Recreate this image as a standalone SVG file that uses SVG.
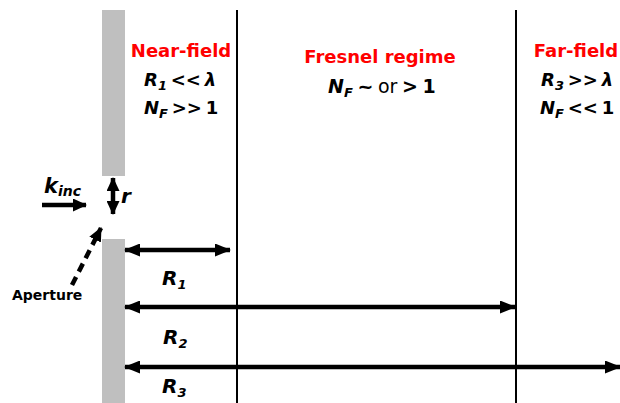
<svg xmlns="http://www.w3.org/2000/svg" width="620" height="403" viewBox="0 0 620 403">
<style>
text{font-family:"DejaVu Sans","Liberation Sans",sans-serif;font-weight:bold;fill:#000}
.h{fill:#FF0000;font-size:18px}
.m{font-size:20px;word-spacing:-2px}
.q{font-size:18px;word-spacing:-2.5px}
.i{font-style:italic}
.s{font-size:13px;font-style:italic}
.n{font-weight:normal}
.bar{fill:#BFBFBF}
.vl{stroke:#000;stroke-width:2;fill:none}
.ar{stroke:#000;stroke-width:4.5;fill:none}
</style>
<defs>
<marker id="ah" viewBox="0 0 16 13" refX="15" refY="6.5" markerWidth="16" markerHeight="13" markerUnits="userSpaceOnUse" orient="auto-start-reverse">
<path d="M0,0 L16,6.5 L0,13 Z" fill="#000"/>
</marker>
<marker id="ahs" viewBox="0 0 14 13" refX="13" refY="6.5" markerWidth="14" markerHeight="13" markerUnits="userSpaceOnUse" orient="auto-start-reverse">
<path d="M0,0 L14,6.5 L0,13 Z" fill="#000"/>
</marker>
</defs>
<rect width="620" height="403" fill="#fff"/>
<g id="aperture-screen">
<rect class="bar" x="102" y="10" width="23" height="166"/>
<rect class="bar" x="102" y="239" width="23" height="164"/>
</g>
<g id="boundaries">
<line class="vl" x1="237" y1="10" x2="237" y2="403"/>
<line class="vl" x1="516" y1="10" x2="516" y2="403"/>
</g>
<g id="near-field">
<text class="h" x="181" y="57" text-anchor="middle">Near-field</text>
<text class="q" x="144" y="86"><tspan class="i">R</tspan><tspan class="s" dy="4">1</tspan><tspan dy="-4"> &lt;&lt; </tspan><tspan class="i">λ</tspan></text>
<text class="q" x="144" y="114"><tspan class="i">N</tspan><tspan class="s" dy="4">F</tspan><tspan dy="-4"> &gt;&gt; 1</tspan></text>
</g>
<g id="fresnel">
<text class="h" x="380" y="63" text-anchor="middle">Fresnel regime</text>
<text class="m" x="328" y="93" style="font-size:19px"><tspan class="i">N</tspan><tspan class="s" dy="4">F</tspan><tspan dy="-4"> ~ </tspan><tspan class="n">or</tspan><tspan> &gt; 1</tspan></text>
</g>
<g id="far-field">
<text class="h" x="576" y="57" text-anchor="middle">Far-field</text>
<text class="q" x="541" y="86"><tspan class="i">R</tspan><tspan class="s" dy="4">3</tspan><tspan dy="-4"> &gt;&gt; </tspan><tspan class="i">λ</tspan></text>
<text class="q" x="540" y="114"><tspan class="i">N</tspan><tspan class="s" dy="4">F</tspan><tspan dy="-4"> &lt;&lt; 1</tspan></text>
</g>
<g id="incident">
<text class="m" x="44" y="193" style="font-size:21px"><tspan class="i">k</tspan><tspan class="s" dy="3" style="font-size:14px">inc</tspan></text>
<text class="m i" x="121" y="203">r</text>
<text x="12" y="300" style="font-size:14px">Aperture</text>
</g>
<g id="connectors">
<line class="ar" x1="42" y1="205" x2="86" y2="205" marker-end="url(#ahs)"/>
<line class="ar" x1="113" y1="178" x2="113" y2="214" marker-start="url(#ahs)" marker-end="url(#ahs)"/>
<line class="ar" x1="72" y1="285" x2="101" y2="228" stroke-dasharray="9,6" marker-end="url(#ahs)"/>
<line class="ar" x1="125" y1="250" x2="230" y2="250" marker-start="url(#ah)" marker-end="url(#ah)"/>
<line class="ar" x1="125" y1="307" x2="515" y2="307" marker-start="url(#ah)" marker-end="url(#ah)"/>
<line class="ar" x1="125" y1="367" x2="620" y2="367" marker-start="url(#ah)" marker-end="url(#ah)"/>
</g>
<g id="labels">
<text class="m" x="162" y="285"><tspan class="i">R</tspan><tspan class="s" dy="4">1</tspan></text>
<text class="m" x="163" y="344"><tspan class="i">R</tspan><tspan class="s" dy="4">2</tspan></text>
<text class="m" x="162" y="393"><tspan class="i">R</tspan><tspan class="s" dy="4">3</tspan></text>
</g>
</svg>
